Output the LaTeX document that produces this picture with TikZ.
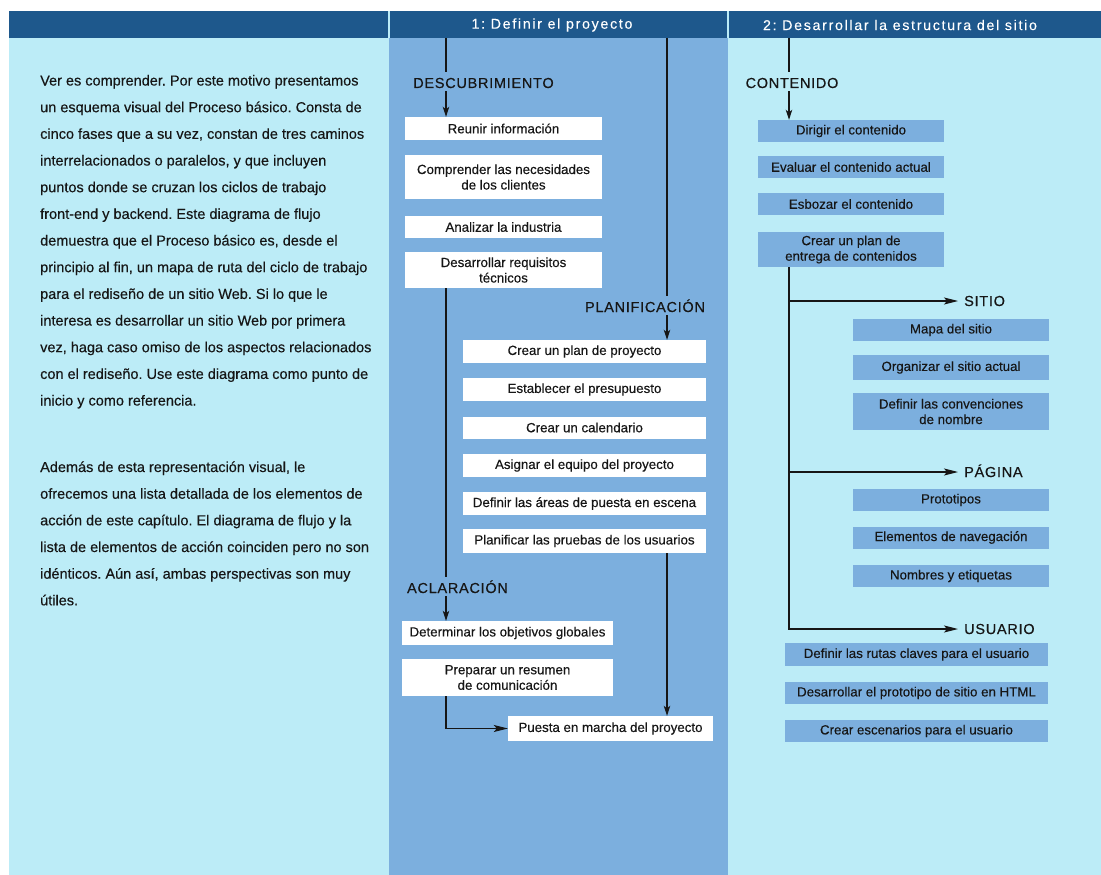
\documentclass[tikz,border=0pt]{standalone}
\usepackage{fontspec}
\setmainfont[FakeBold=0.3]{Liberation Sans}
\newfontfamily\hdrfont[LetterSpace=12,FakeBold=0.2]{Liberation Sans}
\newfontfamily\headfont[LetterSpace=5,FakeBold=0.4]{Liberation Sans}
\usetikzlibrary{arrows.meta}
\definecolor{hdr}{RGB}{30,88,140}
\definecolor{pale}{RGB}{188,236,247}
\definecolor{mid}{RGB}{124,175,222}
\definecolor{ink}{RGB}{22,22,22}
\frenchspacing
\begin{document}
\begin{tikzpicture}[x=1pt,y=-1pt,
  wbox/.style={fill=white, draw=none, text=ink, font=\fontsize{13.3}{15.5}\selectfont, align=center, inner sep=0pt},
  bbox/.style={wbox, fill=mid},
  heading/.style={font=\headfont\fontsize{14.5}{16}\selectfont, text=ink, inner sep=0pt, text height=16pt, text depth=3pt, anchor=base},
  branchhead/.style={heading, text height=10pt, text depth=0pt, inner xsep=6pt, anchor=west},
  ptext/.style={font=\fontsize{14.5}{17}\selectfont, text=ink, anchor=base west, inner sep=0pt},
  hdrtext/.style={font=\hdrfont\fontsize{14.2}{16}\selectfont, text=white, inner sep=0pt},
  conn/.style={draw=ink, line width=1.1pt},
  varr/.style={conn, -{Stealth[length=10pt,width=6.5pt,inset=2.5pt]}},
  harr/.style={conn, -{Stealth[length=14pt,width=7pt,inset=3pt]}},
]
\useasboundingbox (0,0) rectangle (1101,875);
% backgrounds
\fill[white] (0,0) rectangle (1101,875);
\fill[hdr] (9,11) rectangle (1101,38);
\fill[pale] (9,38) rectangle (389,875);
\fill[mid] (389,38) rectangle (728,875);
\fill[pale] (728,38) rectangle (1101,875);
\draw[pale, line width=1.5pt] (389,11) -- (389,38);
\draw[pale, line width=1.5pt] (728,11) -- (728,38);
\node[hdrtext] (h1) at (552,25) {1: Definir el proyecto};
\node[hdrtext] (h2) at (900,25) {2: Desarrollar la estructura del sitio};

% left paragraph
\node[ptext] (t1) at (40,85.5) {Ver es comprender. Por este motivo presentamos};
\node[ptext] (t2) at (40,112.2) {un esquema visual del Proceso básico. Consta de};
\node[ptext] (t3) at (40,138.8) {cinco fases que a su vez, constan de tres caminos};
\node[ptext] (t4) at (40,165.5) {interrelacionados o paralelos, y que incluyen};
\node[ptext] (t5) at (40,192.2) {puntos donde se cruzan los ciclos de trabajo};
\node[ptext] (t6) at (40,218.9) {front-end y backend. Este diagrama de flujo};
\node[ptext] (t7) at (40,245.5) {demuestra que el Proceso básico es, desde el};
\node[ptext] (t8) at (40,272.2) {principio al fin, un mapa de ruta del ciclo de trabajo};
\node[ptext] (t9) at (40,298.9) {para el rediseño de un sitio Web. Si lo que le};
\node[ptext] (t10) at (40,325.5) {interesa es desarrollar un sitio Web por primera};
\node[ptext] (t11) at (40,352.2) {vez, haga caso omiso de los aspectos relacionados};
\node[ptext] (t12) at (40,378.9) {con el rediseño. Use este diagrama como punto de};
\node[ptext] (t13) at (40,405.5) {inicio y como referencia.};
\node[ptext] (t14) at (40,472) {Además de esta representación visual, le};
\node[ptext] (t15) at (40,498.7) {ofrecemos una lista detallada de los elementos de};
\node[ptext] (t16) at (40,525.3) {acción de este capítulo. El diagrama de flujo y la};
\node[ptext] (t17) at (40,552) {lista de elementos de acción coinciden pero no son};
\node[ptext] (t18) at (40,578.7) {idénticos. Aún así, ambas perspectivas son muy};
\node[ptext] (t19) at (40,605.3) {útiles.};

% column 1
\coordinate (c1) at (446,38);
\coordinate (c2) at (667,38);
\node[heading] (desc) at (483.5,88) {DESCUBRIMIENTO};
\node[wbox, minimum width=197pt, minimum height=23pt] (reunir) at (503.5,128.5) {Reunir información};
\node[wbox, minimum width=197pt, minimum height=44pt] (compr) at (503.5,177) {Comprender las necesidades\\de los clientes};
\node[wbox, minimum width=197pt, minimum height=22pt] (anal) at (503.5,227) {Analizar la industria};
\node[wbox, minimum width=197pt, minimum height=36pt] (desar) at (503.5,270) {Desarrollar requisitos\\técnicos};
\node[heading] (plan) at (645,312) {PLANIFICACIÓN};
\node[wbox, minimum width=243pt, minimum height=23pt] (crearplan) at (584.5,351.5) {Crear un plan de proyecto};
\node[wbox, minimum width=243pt, minimum height=23pt] (presup) at (584.5,389.5) {Establecer el presupuesto};
\node[wbox, minimum width=243pt, minimum height=22pt] (calend) at (584.5,427.5) {Crear un calendario};
\node[wbox, minimum width=243pt, minimum height=23pt] (asignar) at (584.5,465.5) {Asignar el equipo del proyecto};
\node[wbox, minimum width=243pt, minimum height=23pt] (areas) at (584.5,503.5) {Definir las áreas de puesta en escena};
\node[wbox, minimum width=243pt, minimum height=24pt] (planif) at (584.5,541) {Planificar las pruebas de los usuarios};
\node[heading] (aclar) at (457.5,593) {ACLARACIÓN};
\node[wbox, minimum width=211pt, minimum height=24pt] (determ) at (507.5,633) {Determinar los objetivos globales};
\node[wbox, minimum width=211pt, minimum height=37pt] (prep) at (507.5,677.5) {Preparar un resumen\\de comunicación};
\node[wbox, minimum width=205pt, minimum height=25pt] (puesta) at (610.5,728.5) {Puesta en marcha del proyecto};

\draw[conn] (c1) -- (desc.north -| c1);
\draw[varr] (desc.south -| c1) -- (reunir.north -| c1);
\draw[conn] (desar.south -| c1) -- (aclar.north -| c1);
\draw[varr] (aclar.south -| c1) -- (determ.north -| c1);
\draw[harr] (prep.south -| c1) |- (puesta.west);
\draw[conn] (c2) -- (plan.north -| c2);
\draw[varr] (plan.south -| c2) -- (crearplan.north -| c2);
\draw[varr] (planif.south -| c2) -- (puesta.north -| c2);

% column 2
\coordinate (c3) at (789,38);
\node[heading] (cont) at (792,88) {CONTENIDO};
\node[bbox, minimum width=186pt, minimum height=22pt] (dirigir) at (851,131) {Dirigir el contenido};
\node[bbox, minimum width=186pt, minimum height=22pt] (evaluar) at (851,167) {Evaluar el contenido actual};
\node[bbox, minimum width=186pt, minimum height=22pt] (esbozar) at (851,204) {Esbozar el contenido};
\node[bbox, minimum width=186pt, minimum height=35pt] (entrega) at (851,249.5) {Crear un plan de\\entrega de contenidos};
\node[branchhead] (sitio) at (958,301) {SITIO};
\node[bbox, minimum width=196pt, minimum height=22pt] (mapa) at (951,330) {Mapa del sitio};
\node[bbox, minimum width=196pt, minimum height=25pt] (organ) at (951,367.5) {Organizar el sitio actual};
\node[bbox, minimum width=196pt, minimum height=37pt] (conv) at (951,411.5) {Definir las convenciones\\de nombre};
\node[branchhead] (pagina) at (958,472) {PÁGINA};
\node[bbox, minimum width=196pt, minimum height=22pt] (proto) at (951,500) {Prototipos};
\node[bbox, minimum width=196pt, minimum height=22pt] (elem) at (951,537.5) {Elementos de navegación};
\node[bbox, minimum width=196pt, minimum height=22pt] (nombres) at (951,576) {Nombres y etiquetas};
\node[branchhead] (usuario) at (958,629) {USUARIO};
\node[bbox, minimum width=263pt, minimum height=23pt] (rutas) at (916.5,654.5) {Definir las rutas claves para el usuario};
\node[bbox, minimum width=263pt, minimum height=22pt] (html) at (916.5,693) {Desarrollar el prototipo de sitio en HTML};
\node[bbox, minimum width=263pt, minimum height=22pt] (escen) at (916.5,731) {Crear escenarios para el usuario};

\draw[conn] (c3) -- (cont.north -| c3);
\draw[varr] (cont.south -| c3) -- (dirigir.north -| c3);
\draw[harr] (entrega.south -| c3) |- (usuario.west);
\draw[harr] (c3 |- sitio.west) -- (sitio.west);
\draw[harr] (c3 |- pagina.west) -- (pagina.west);
\end{tikzpicture}
\end{document}
